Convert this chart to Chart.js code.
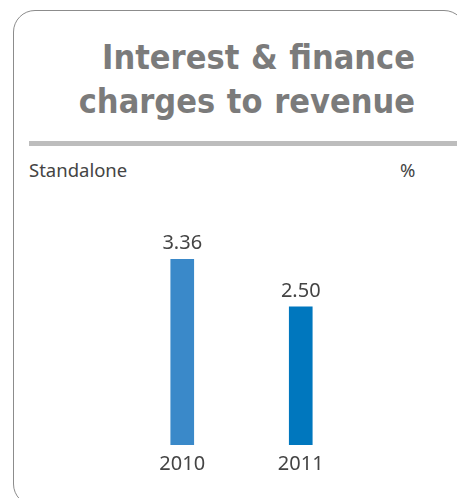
<!DOCTYPE html>
<html>
<head>
<meta charset="utf-8">
<script src="https://cdn.jsdelivr.net/npm/chart.js@4.4.1/dist/chart.umd.min.js"></script>
<style>
  html, body { margin: 0; padding: 0; background: #fff; }
  body { width: 457px; height: 498px; position: relative; overflow: hidden; font-family: "Noto Sans", sans-serif; }
  .card { position: absolute; left: 13px; top: 10px; width: 453px; height: 496px; box-sizing: border-box;
          border: 1.5px solid #8c8c8c; border-radius: 22px; }
  .title { position: absolute; right: 42px; top: 35px; text-align: right; color: #7b7b7b;
           font-family: "DejaVu Sans Condensed", sans-serif; font-weight: bold; font-size: 34px; line-height: 44px;
           word-spacing: 1px; }
  .rule { position: absolute; left: 29px; top: 141px; width: 440px; height: 5px; background: #bdbdbd; }
  .sub { position: absolute; top: 157px; font-size: 18.5px; color: #444; }
  #wrap { position: absolute; left: 0; top: 0; width: 457px; height: 498px; }
</style>
</head>
<body>
<div class="card"></div>
<div class="title">Interest &amp; finance<br>charges to revenue</div>
<div class="rule"></div>
<div class="sub" style="left:29px">Standalone</div>
<div class="sub" style="left:400px">%</div>
<div id="wrap"><canvas id="chart"></canvas></div>
<script>
// données
const years = ['2010', '2011'];
const ratios = [3.36, 2.50];
const barColors = ['#3a89c9', '#0077be'];

// étiquettes de valeur au-dessus des barres
const valueLabels = {
  id: 'valueLabels',
  afterDatasetsDraw(chart) {
    const ctx = chart.ctx;
    const meta = chart.getDatasetMeta(0);
    ctx.save();
    ctx.font = '20px "Noto Sans"';
    ctx.fillStyle = '#444';
    ctx.textAlign = 'center';
    ctx.textBaseline = 'bottom';
    meta.data.forEach((bar, i) => {
      ctx.fillText(ratios[i].toFixed(2), bar.x, bar.y - 6);
    });
    ctx.restore();
  }
};

new Chart(document.getElementById('chart').getContext('2d'), {
  type: 'bar',
  data: {
    labels: years,
    datasets: [{
      data: ratios,
      backgroundColor: barColors,
      barThickness: 23
    }]
  },
  options: {
    responsive: true,
    maintainAspectRatio: false,
    animation: false,
    layout: { padding: { left: 123, right: 97, top: 224, bottom: 15 } },
    plugins: { legend: { display: false }, tooltip: { enabled: false } },
    scales: {
      x: {
        grid: { display: false, drawTicks: false },
        border: { display: false },
        ticks: { color: '#444', font: { family: 'Noto Sans', size: 20 }, padding: 7 }
      },
      y: { display: false, min: 0, max: 4 }
    }
  },
  plugins: [valueLabels]
});
</script>
</body>
</html>
